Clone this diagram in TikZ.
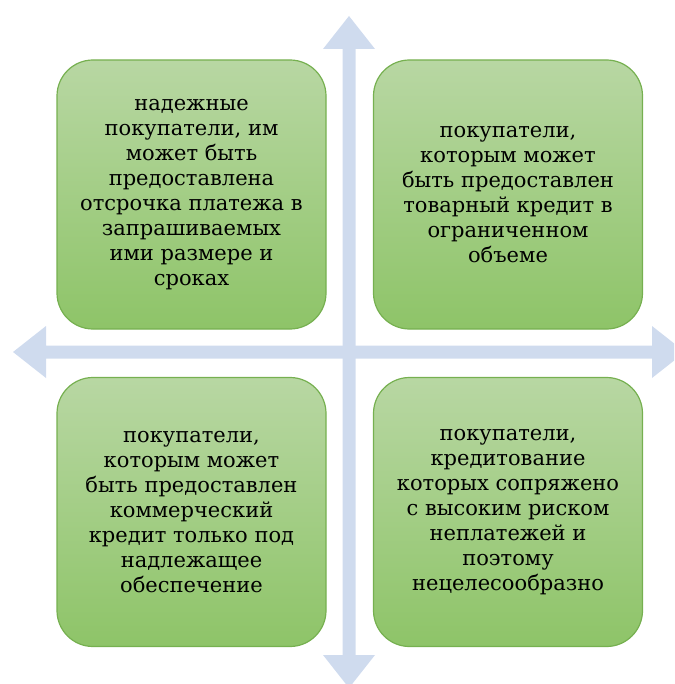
\documentclass[tikz,border=0pt]{standalone}
\usepackage{fontspec}
\setmainfont{DejaVu Serif}
\definecolor{arrowblue}{RGB}{207,219,238}
\definecolor{boxborder}{RGB}{118,176,80}
\definecolor{boxtop}{RGB}{184,215,163}
\definecolor{boxbottom}{RGB}{142,196,104}
\tikzset{
  quad/.style={draw=boxborder, line width=1.2pt, rounded corners=36pt,
    top color=boxtop, bottom color=boxbottom,
    minimum width=269pt, minimum height=269pt, align=center,
    font=\fontsize{21}{25}\selectfont, text=black, inner sep=0pt},
  axis/.style={fill=arrowblue, draw=none}
}
\begin{document}
\begin{tikzpicture}[x=1pt,y=-1pt]
\useasboundingbox (0,0) rectangle (674,684);
\begin{scope}
\clip (0,0) rectangle (674,684);
% vertical double arrow
\fill[axis] (349,16) -- (375,49) -- (355.5,49) -- (355.5,655) -- (375,655) -- (349,688)
  -- (323,655) -- (342.5,655) -- (342.5,49) -- (323,49) -- cycle;
% horizontal double arrow
\fill[axis] (13,352) -- (46,326) -- (46,345.5) -- (652,345.5) -- (652,326) -- (685,352)
  -- (652,378) -- (652,358.5) -- (46,358.5) -- (46,378) -- cycle;
\end{scope}
\node[quad] (tl) at (191.5,194.5) {надежные\\покупатели, им\\может быть\\предоставлена\\отсрочка платежа в\\запрашиваемых\\ими размере и\\сроках};
\node[quad] (tr) at (508,194.5) {покупатели,\\которым может\\быть предоставлен\\товарный кредит в\\ограниченном\\объеме};
\node[quad] (bl) at (191.5,512) {покупатели,\\которым может\\быть предоставлен\\коммерческий\\кредит только под\\надлежащее\\обеспечение};
\node[quad] (br) at (508,512) {покупатели,\\кредитование\\которых сопряжено\\с высоким риском\\неплатежей и\\поэтому\\нецелесообразно};
\end{tikzpicture}
\end{document}
